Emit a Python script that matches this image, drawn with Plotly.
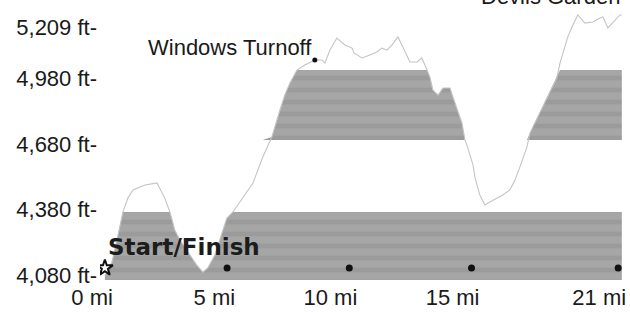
import numpy as np
import plotly.graph_objects as go

# --- data -------------------------------------------------------------------
miles = [0.00, 0.29, 0.49, 0.61, 0.74, 0.94, 1.15, 1.64, 2.13, 2.45, 2.66, 2.86,
         3.07, 3.48, 3.76, 4.01, 4.21, 4.50, 4.79, 4.99, 5.24, 5.65, 6.06, 6.46,
         6.83, 7.16, 7.36, 7.57, 7.86, 8.18, 8.59, 8.88, 9.00, 9.21, 9.49, 9.82,
         10.11, 10.19, 10.52, 10.84, 11.13, 11.33, 11.54, 11.74, 11.99, 12.19,
         12.48, 12.77, 12.97, 13.18, 13.30, 13.42, 13.63, 13.83, 14.12, 14.24,
         14.44, 14.61, 14.73, 14.81, 15.06, 15.14, 15.34, 15.55, 15.75, 16.04,
         16.28, 16.57, 16.78, 16.98, 17.27, 17.39, 17.59, 17.92, 18.29, 18.49,
         18.62, 18.82, 18.94, 19.11, 19.35, 19.64, 19.97, 20.25, 20.38, 20.58,
         20.79, 21.07, 21.15]
elev_ft = [4080, 4142, 4242, 4310, 4370, 4433, 4470, 4493, 4502, 4433, 4370, 4288,
           4242, 4174, 4128, 4096, 4115, 4174, 4279, 4342, 4370, 4438, 4502, 4620,
           4711, 4834, 4902, 4957, 5016, 5039, 5062, 5062, 5048, 5107, 5162, 5130,
           5116, 5094, 5071, 5085, 5098, 5116, 5107, 5130, 5167, 5121,
           5053, 5053, 5071, 5016, 4984, 4925, 4902, 4934, 4934, 4893,
           4834, 4775, 4698, 4675, 4584, 4529, 4447, 4402, 4415, 4433,
           4447, 4470, 4515, 4575, 4666, 4729, 4775, 4848, 4934, 4980,
           5048, 5121, 5167, 5212, 5267, 5230, 5235, 5253, 5258, 5208,
           5235, 5267, 5267]

# shaded elevation bands (ft)
band_ranges = [(4060, 4370), (4697, 5016)]

x_tick_vals = [0, 5, 10, 15, 21]
x_tick_text = ["0 mi", "5 mi", "10 mi", "15 mi", "21 mi"]
y_tick_vals = [4080, 4380, 4680, 4980, 5209]
y_tick_text = ["4,080 ft-", "4,380 ft-", "4,680 ft-", "4,980 ft-", "5,209 ft-"]

mile_markers = [5, 10, 15, 21]
marker_elev = 4115
start_mile = 0
windows_turnoff = (8.59, 5062)
devils_garden = (21.15, 5267)

# -----------------------------------------------------------------------------
x = np.array(miles, dtype=float)
y = np.array(elev_ft, dtype=float)

fig = go.Figure()

for lo, hi in band_ranges:
    fig.add_trace(go.Scatter(x=x, y=np.full_like(y, lo), mode="lines",
                             line=dict(width=0), hoverinfo="skip", showlegend=False))
    fig.add_trace(go.Scatter(
        x=x, y=np.clip(y, lo, hi), mode="lines", line=dict(width=0),
        fill="tonexty", fillcolor="#a3a3a3",
        fillpattern=dict(shape="-", fgcolor="#8f8f8f", bgcolor="#a6a6a6",
                         size=12, solidity=0.4),
        hoverinfo="skip", showlegend=False))

# profile line
fig.add_trace(go.Scatter(x=x, y=y, mode="lines",
                         line=dict(color="#c4c4c4", width=1.1),
                         showlegend=False))

# mile marker dots
fig.add_trace(go.Scatter(x=mile_markers, y=[marker_elev] * len(mile_markers),
                         mode="markers", marker=dict(color="#111", size=7),
                         showlegend=False))
# start star
fig.add_trace(go.Scatter(x=[start_mile], y=[marker_elev], mode="markers",
                         marker=dict(symbol="star-open", color="#111", size=12,
                                     line=dict(width=2, color="#111")),
                         showlegend=False))
# Windows Turnoff dot
fig.add_trace(go.Scatter(x=[windows_turnoff[0]], y=[windows_turnoff[1]],
                         mode="markers", marker=dict(color="#111", size=5),
                         showlegend=False))

font_main = "Liberation Sans"

fig.add_annotation(x=windows_turnoff[0], y=windows_turnoff[1], text="Windows Turnoff",
                   showarrow=False, xanchor="right", yanchor="middle",
                   xshift=-1, yshift=12,
                   font=dict(family=font_main, size=22, color="#1a1a1a"))
fig.add_annotation(x=devils_garden[0], y=devils_garden[1], text="Devils Garden",
                   showarrow=False, xanchor="right", yanchor="middle",
                   xshift=0, yshift=18,
                   font=dict(family=font_main, size=22, color="#1a1a1a"))
fig.add_annotation(x=start_mile, y=4080, text="<b>Start/Finish</b>",
                   showarrow=False, xanchor="left", yanchor="middle",
                   xshift=1, yshift=29,
                   font=dict(family="DejaVu Sans", size=23, color="#1c1c1c"))

fig.update_layout(
    width=630, height=312,
    margin=dict(l=100, r=5, t=0, b=30),
    paper_bgcolor="white", plot_bgcolor="white",
    showlegend=False,
    xaxis=dict(range=[-0.2, 21.28], showgrid=False, zeroline=False, showline=False,
               tickmode="array", tickvals=x_tick_vals, ticktext=x_tick_text,
               ticks="", ticklabelposition="outside left", ticklabelshift=8,
               tickfont=dict(family=font_main, size=22, color="#1a1a1a")),
    yaxis=dict(range=[4051, 5335], showgrid=False, zeroline=False, showline=False,
               tickmode="array", tickvals=y_tick_vals, ticktext=y_tick_text,
               ticks="", ticklabelstandoff=2,
               tickfont=dict(family=font_main, size=22, color="#1a1a1a")),
)

fig.write_html("out.html", config={"displayModeBar": False},
               post_script="document.body.style.margin='0px';document.body.style.overflow='hidden';")
